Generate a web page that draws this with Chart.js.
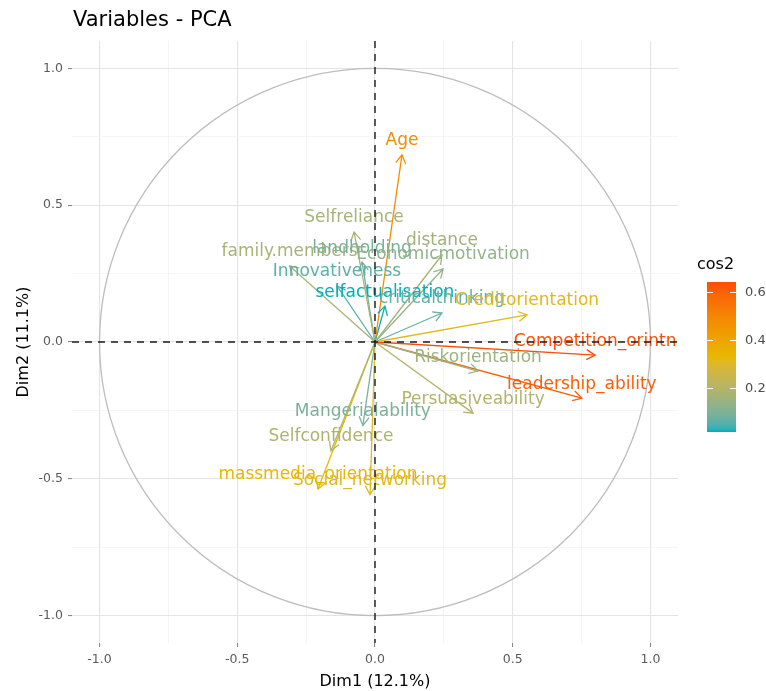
<!DOCTYPE html>
<html><head><meta charset="utf-8">
<script src="https://cdn.jsdelivr.net/npm/chart.js@4.4.1/dist/chart.umd.min.js"></script>
<style>html,body{margin:0;padding:0;background:#fff;}canvas{display:block;}</style>
</head><body>
<canvas id="c" width="766" height="691"></canvas>
<script>
// ---- data ----
const variables = ['Age','Selfreliance','family.members','landholding','distance','Economicmotivation',
  'Innovativeness','selfactualisation','criticalthinking','Creditorientation','Competition_orintn',
  'Riskorientation','leadership_ability','Persuasiveability','Mangerialability','Selfconfidence',
  'massmedia_orientation','Social_networking'];
const dim1 = [0.098,-0.076,-0.310,-0.047,0.243,0.247,-0.138,0.036,0.243,0.552,0.799,
  0.374,0.751,0.356,-0.044,-0.160,-0.207,-0.018];
const dim2 = [0.684,0.402,0.278,0.292,0.318,0.267,0.205,0.131,0.106,0.099,-0.048,
  -0.106,-0.205,-0.260,-0.305,-0.398,-0.537,-0.558];
const axisTicks = [-1,-0.75,-0.5,-0.25,0,0.25,0.5,0.75,1];
const majorTicks = [-1,-0.5,0,0.5,1];
const legendBreaks = [0.2,0.4,0.6];
const gradientColors = ['#00AFBB','#E7B800','#FC4E07'];
const chartTitle = 'Variables - PCA';
const xTitle = 'Dim1 (12.1%)';
const yTitle = 'Dim2 (11.1%)';
const legendTitle = 'cos2';

// ---- colour ramp in CIELAB (like ggplot's gradientn) ----
function hexToRgb(h){return [parseInt(h.substr(1,2),16),parseInt(h.substr(3,2),16),parseInt(h.substr(5,2),16)];}
function lin(c){c/=255;return c<=0.04045?c/12.92:Math.pow((c+0.055)/1.055,2.4);}
function unlin(c){c=c<=0.0031308?12.92*c:1.055*Math.pow(c,1/2.4)-0.055;return Math.max(0,Math.min(255,Math.round(c*255)));}
const WX=0.95047,WY=1,WZ=1.08883;
function f(t){return t>0.008856?Math.cbrt(t):7.787*t+16/116;}
function finv(t){return t>0.206893?t*t*t:(t-16/116)/7.787;}
function toLab(rgb){const R=lin(rgb[0]),G=lin(rgb[1]),B=lin(rgb[2]);
  const X=(0.4124*R+0.3576*G+0.1805*B)/WX,Y=(0.2126*R+0.7152*G+0.0722*B)/WY,Z=(0.0193*R+0.1192*G+0.9505*B)/WZ;
  const fx=f(X),fy=f(Y),fz=f(Z);return [116*fy-16,500*(fx-fy),200*(fy-fz)];}
function fromLab(l){const fy=(l[0]+16)/116,fx=fy+l[1]/500,fz=fy-l[2]/200;
  const X=finv(fx)*WX,Y=finv(fy)*WY,Z=finv(fz)*WZ;
  const R=3.2406*X-1.5372*Y-0.4986*Z,G=-0.9689*X+1.8758*Y+0.0415*Z,B=0.0557*X-0.2040*Y+1.0570*Z;
  return 'rgb('+unlin(R)+','+unlin(G)+','+unlin(B)+')';}
const labStops = gradientColors.map(c=>toLab(hexToRgb(c)));
function ramp(t){t=Math.max(0,Math.min(1,t));const n=labStops.length-1;let i=Math.min(n-1,Math.floor(t*n));const u=t*n-i;
  const a=labStops[i],b=labStops[i+1];return fromLab([a[0]+(b[0]-a[0])*u,a[1]+(b[1]-a[1])*u,a[2]+(b[2]-a[2])*u]);}

const cos2 = dim1.map((x,i)=>x*x+dim2[i]*dim2[i]);
const cMin = Math.min(...cos2), cMax = Math.max(...cos2);
const colorOf = v => ramp((v-cMin)/(cMax-cMin));

const FONT = '"DejaVu Sans", "Liberation Sans", sans-serif';

const datasets = variables.map((name,i)=>({
  type:'line', label:name,
  data:[{x:0,y:0},{x:dim1[i],y:dim2[i]}],
  borderColor:colorOf(cos2[i]), backgroundColor:colorOf(cos2[i]),
  borderWidth:1.3, pointRadius:0, pointHoverRadius:0, fill:false, tension:0
}));

const pcaPlugin = {
  id:'pca',
  beforeDatasetsDraw(chart){
    const ctx=chart.ctx, xs=chart.scales.x, ys=chart.scales.y, a=chart.chartArea;
    ctx.save();
    ctx.beginPath();ctx.rect(a.left,a.top,a.right-a.left,a.bottom-a.top);ctx.clip();
    const cx=xs.getPixelForValue(0), cy=ys.getPixelForValue(0);
    const rx=xs.getPixelForValue(1)-cx, ry=cy-ys.getPixelForValue(1);
    ctx.beginPath();ctx.ellipse(cx,cy,rx,ry,0,0,Math.PI*2);
    ctx.strokeStyle='#BDBDBD';ctx.lineWidth=1.3;ctx.stroke();
    ctx.restore();
  },
  afterDatasetsDraw(chart){
    const ctx=chart.ctx, xs=chart.scales.x, ys=chart.scales.y, a=chart.chartArea;
    ctx.save();
    // arrow heads
    chart.data.datasets.forEach((ds,i)=>{
      const pts=chart.getDatasetMeta(i).data; const p0=pts[0], p1=pts[1];
      const ang=Math.atan2(p1.y-p0.y,p1.x-p0.x), L=10, w=Math.PI/6;
      ctx.beginPath();
      ctx.moveTo(p1.x-L*Math.cos(ang-w),p1.y-L*Math.sin(ang-w));
      ctx.lineTo(p1.x,p1.y);
      ctx.lineTo(p1.x-L*Math.cos(ang+w),p1.y-L*Math.sin(ang+w));
      ctx.strokeStyle=ds.borderColor;ctx.lineWidth=1.3;ctx.lineJoin='miter';ctx.stroke();
    });
    // labels
    ctx.font='17px '+FONT;ctx.textAlign='center';ctx.textBaseline='alphabetic';
    chart.data.datasets.forEach((ds,i)=>{
      const p1=chart.getDatasetMeta(i).data[1];
      ctx.fillStyle=ds.borderColor;ctx.fillText(ds.label,p1.x,p1.y-9.5);
    });
    // dashed zero lines
    ctx.beginPath();ctx.rect(a.left,a.top,a.right-a.left,a.bottom-a.top);ctx.clip();
    ctx.setLineDash([7,6]);ctx.strokeStyle='#1a1a1a';ctx.lineWidth=1.4;
    const zx=xs.getPixelForValue(0), zy=ys.getPixelForValue(0);
    ctx.beginPath();ctx.moveTo(a.left,zy);ctx.lineTo(a.right,zy);ctx.stroke();
    ctx.beginPath();ctx.moveTo(zx,a.top);ctx.lineTo(zx,a.bottom);ctx.stroke();
    ctx.restore();
  },
  afterDraw(chart){
    const ctx=chart.ctx, a=chart.chartArea;
    ctx.save();
    // title
    ctx.fillStyle='#000';ctx.font='21px '+FONT;ctx.textAlign='left';ctx.textBaseline='alphabetic';
    ctx.fillText(chartTitle,73,26);
    // axis titles
    ctx.font='16px '+FONT;ctx.textAlign='center';
    ctx.fillText(xTitle,(a.left+a.right)/2,686);
    ctx.save();ctx.translate(28,(a.top+a.bottom)/2);ctx.rotate(-Math.PI/2);ctx.fillText(yTitle,0,0);ctx.restore();
    // legend colourbar
    const bx=707,bw=29,bTop=282,bBot=432;
    const g=ctx.createLinearGradient(0,bBot,0,bTop);
    for(let k=0;k<=40;k++){g.addColorStop(k/40,ramp(k/40));}
    ctx.fillStyle=g;ctx.fillRect(bx,bTop,bw,bBot-bTop);
    const vy=v=>bBot-(v-cMin)/(cMax-cMin)*(bBot-bTop);
    ctx.strokeStyle='rgba(255,255,255,0.9)';ctx.lineWidth=1;
    ctx.font='13px '+FONT;ctx.fillStyle='#4d4d4d';ctx.textAlign='left';ctx.textBaseline='middle';
    legendBreaks.forEach(v=>{const y=Math.round(vy(v))+0.5;
      ctx.beginPath();ctx.moveTo(bx,y);ctx.lineTo(bx+6,y);ctx.moveTo(bx+bw-6,y);ctx.lineTo(bx+bw,y);ctx.stroke();
      ctx.fillText(v.toFixed(1),745,y);});
    ctx.fillStyle='#000';ctx.font='16px '+FONT;ctx.textBaseline='alphabetic';
    ctx.fillText(legendTitle,697,269);
    ctx.restore();
  }
};

const gridColor = c => (c.tick && majorTicks.includes(c.tick.value)) ? '#E4E4E4' : '#F1F1F1';
const gridWidth = c => (c.tick && majorTicks.includes(c.tick.value)) ? 1.1 : 0.7;
const tickColor = c => (c.tick && majorTicks.includes(c.tick.value)) ? '#8a8a8a' : 'rgba(0,0,0,0)';
const tickLabel = v => majorTicks.includes(v) ? v.toFixed(1) : '';

new Chart(document.getElementById('c'),{
  type:'scatter',
  data:{datasets},
  options:{
    responsive:false, animation:false, devicePixelRatio:1,
    layout:{padding:{left:0,right:88,top:41,bottom:0}},
    plugins:{legend:{display:false},tooltip:{enabled:false},title:{display:false}},
    events:[],
    scales:{
      x:{type:'linear',min:-1.1,max:1.1,
        afterBuildTicks:s=>{s.ticks=axisTicks.map(v=>({value:v}));},
        afterFit:s=>{s.height=48;},
        grid:{color:gridColor,lineWidth:gridWidth,tickColor:tickColor,tickLength:4,drawTicks:true},
        border:{display:false},
        ticks:{callback:tickLabel,autoSkip:false,maxRotation:0,padding:5,color:'#5a5a5a',font:{family:FONT,size:12.5}}
      },
      y:{type:'linear',min:-1.1,max:1.1,
        afterBuildTicks:s=>{s.ticks=axisTicks.map(v=>({value:v}));},
        afterFit:s=>{s.width=72;},
        grid:{color:gridColor,lineWidth:gridWidth,tickColor:tickColor,tickLength:4,drawTicks:true},
        border:{display:false},
        ticks:{callback:tickLabel,autoSkip:false,padding:5,color:'#5a5a5a',font:{family:FONT,size:12.5}}
      }
    }
  },
  plugins:[pcaPlugin]
});
</script>
</body></html>
